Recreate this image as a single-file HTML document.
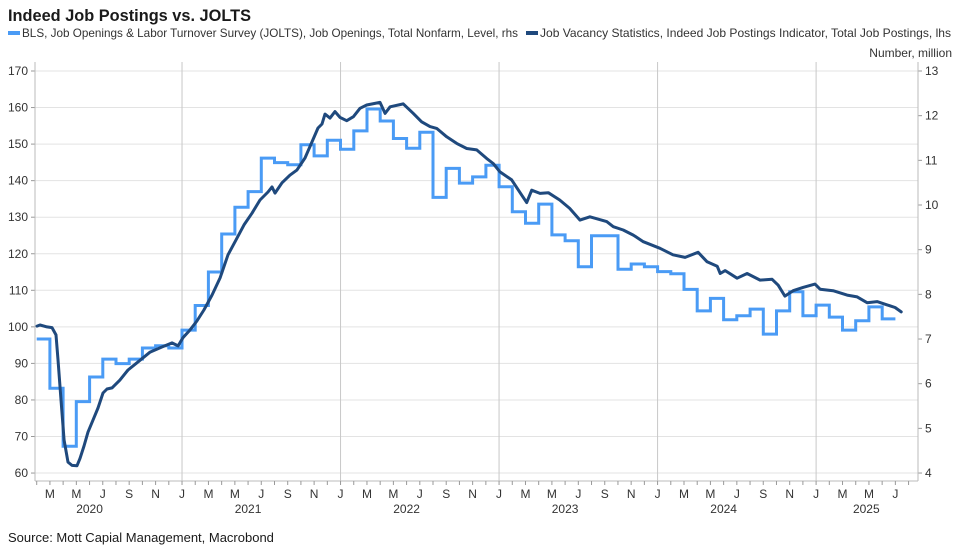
<!DOCTYPE html>
<html><head><meta charset="utf-8"><style>
body{margin:0;background:#fff;font-family:"Liberation Sans",sans-serif;}
svg{display:block}
</style></head><body>
<svg id="chart" width="960" height="554" viewBox="0 0 960 554">
<text x="8" y="21" font-size="16.5" font-weight="bold" fill="#1a1a1a" textLength="243" lengthAdjust="spacingAndGlyphs">Indeed Job Postings vs. JOLTS</text>
<g font-size="12" fill="#333">
<rect x="8" y="31" width="12" height="4" fill="#4a9bf5"/>
<text x="22" y="37" textLength="496" lengthAdjust="spacingAndGlyphs">BLS, Job Openings &amp; Labor Turnover Survey (JOLTS), Job Openings, Total Nonfarm, Level, rhs</text>
<rect x="526" y="31" width="12" height="4" fill="#1f497d"/>
<text x="540" y="37" textLength="411" lengthAdjust="spacingAndGlyphs">Job Vacancy Statistics, Indeed Job Postings Indicator, Total Job Postings, lhs</text>
</g>
<text x="952" y="57" font-size="12" fill="#333" text-anchor="end">Number, million</text>
<g id="grid"></g><g id="axes"></g><g id="series"></g>
<text x="8" y="542" font-size="13" fill="#1a1a1a">Source: Mott Capial Management, Macrobond</text>
</svg>
<script>
const leftTicks=[60,70,80,90,100,110,120,130,140,150,160,170];
const rightTicks=[4,5,6,7,8,9,10,11,12,13];
const monthLetters=["J","F","M","A","M","J","J","A","S","O","N","D"];
const years=[2020,2021,2022,2023,2024,2025];
// JOLTS monthly, millions, starting Feb 2020 (t=1 months since Jan 2020)
const joltsStart=1;
const joltsValues=[7.0,5.9,4.6,5.6,6.15,6.55,6.45,6.55,6.8,6.85,6.8,7.2,7.75,8.5,9.35,9.95,10.3,11.05,10.95,10.9,11.35,11.1,11.45,11.25,11.66,12.15,11.88,11.49,11.27,11.63,10.17,10.82,10.49,10.63,10.89,10.41,9.85,9.59,10.02,9.33,9.2,8.62,9.31,9.31,8.56,8.68,8.62,8.51,8.46,8.11,7.63,7.91,7.43,7.52,7.67,7.11,7.63,8.06,7.52,7.76,7.49,7.2,7.41,7.72,7.45];
// Indeed index: months since Jan 2020 and level
const indeedT=[1.02,1.25,1.78,2.16,2.46,2.61,2.84,3.07,3.37,3.67,4.05,4.28,4.58,4.88,5.26,5.64,6.02,6.32,6.70,7.29,7.91,8.67,9.58,10.48,11.24,11.70,12.07,12.60,13.13,13.66,14.27,14.88,15.48,16.09,16.69,17.30,17.90,18.51,18.81,19.04,19.57,20.17,20.70,21.31,21.84,22.29,22.60,22.82,23.20,23.58,23.96,24.47,24.97,25.47,25.98,26.99,27.37,27.75,28.75,29.51,30.14,30.77,31.28,32.04,32.79,33.55,34.31,35.06,35.56,36.07,36.96,37.71,38.09,38.47,39.10,39.73,40.59,41.35,42.13,42.88,44.15,44.65,45.40,46.16,46.92,48.18,49.17,50.08,51.07,51.75,52.51,52.74,53.12,54.02,54.78,55.76,56.67,57.13,57.64,58.26,59.01,59.92,60.30,61.29,62.35,63.11,63.86,64.62,65.38,65.98,66.44];
const indeedV=[100.2,100.5,100,99.8,97.8,91,80,69,63,62.1,62,64,67.4,71.2,74.5,77.8,81.9,83,83.3,85.4,88.2,90.4,93.1,94.5,95.6,94.8,97,99.1,101.6,104.6,108.7,113.4,119.7,123.8,127.9,131.1,134.7,136.9,138.3,136.6,139.4,141.5,142.9,146.2,150.6,154.4,155.5,158.2,157.1,158.9,157.3,156.4,157.5,159.8,160.7,161.4,158.4,160.2,161,158.4,156.1,154.8,154.3,152,150.2,148.8,148.4,146.1,144.7,142.4,140.2,136.1,134,137.4,136.5,136.7,134.7,132.4,129.2,130.1,128.8,127.4,126.5,125.1,123.3,121.5,119.7,119,120.4,117.8,116.6,114.6,115.4,113.3,114.6,112.8,113,111.4,108.4,109.9,110.8,111.7,110.3,109.9,108.7,108.2,106.6,106.9,106,105.3,104.1];

const X0=23.5, MW=13.21, PL=35, PR=918, PT=62, PB=481;
const xT=t=>X0+t*MW;
const yL=v=>71+(170-v)*3.655;
const yR=v=>71+(13-v)*44.67;
const NS="http://www.w3.org/2000/svg";
function mk(tag,attrs,parent){const e=document.createElementNS(NS,tag);for(const k in attrs)e.setAttribute(k,attrs[k]);parent.appendChild(e);return e;}
const grid=document.getElementById('grid'),axes=document.getElementById('axes'),ser=document.getElementById('series');

leftTicks.forEach(v=>{
  const y=yL(v);
  const l=mk('line',{x1:PL,x2:PR,y1:y,y2:y,stroke:'#e3e3e3','stroke-width':1},grid);
  
  
  const tk=mk('line',{x1:PL-4,x2:PL,y1:y,y2:y,stroke:'#999'},axes);
  
  
  const t=mk('text',{x:28,y:y+4,'font-size':12,fill:'#333','text-anchor':'end'},axes);
  t.textContent=v;
  
  
});
rightTicks.forEach(v=>{
  const y=yR(v);
  const tk=mk('line',{x1:PR,x2:PR+4,y1:y,y2:y,stroke:'#999'},axes);
  
  
  const t=mk('text',{x:925,y:y+4,'font-size':12,fill:'#333'},axes);
  t.textContent=v;
  
  
});
const al=mk('line',{x1:PL,x2:PL,y1:PT,y2:PB,stroke:'#bbb'},axes);


const ar=mk('line',{x1:PR,x2:PR,y1:PT,y2:PB,stroke:'#bbb'},axes);


const ab=mk('line',{x1:PL,x2:PR,y1:PB,y2:PB,stroke:'#bbb'},axes);



for(let t=1;t<=67;t++){
  const x=xT(t); if(x<PL||x>PR)continue;
  const m=t%12;
  if(m===0){
    const g=mk('line',{x1:x,x2:x,y1:PT,y2:PB,stroke:'#c8c8c8'},grid);
    
    
  }
  const tk=mk('line',{x1:x,x2:x,y1:PB,y2:PB+4,stroke:'#999'},axes);
  
  
  if(m%2===0 && t<=66){
    const lb=mk('text',{x:x,y:498,'font-size':12,fill:'#333','text-anchor':'middle'},axes);
    lb.textContent=monthLetters[m];
    
    
  }
}
years.forEach((yr,i)=>{
  const lb=mk('text',{x:i===5?xT(63.8):xT(i*12+5),y:513,'font-size':12,fill:'#333','text-anchor':'middle'},axes);
  lb.textContent=yr;
  
  
});

let d='';
joltsValues.forEach((v,i)=>{
  const t=joltsStart+i;
  d+=(i===0?'M':'L')+xT(t).toFixed(1)+','+yR(v).toFixed(1)+'L'+xT(t+1).toFixed(1)+','+yR(v).toFixed(1);
});
const jp=mk('path',{d:d,fill:'none',stroke:'#4a9bf5','stroke-width':3,'stroke-linejoin':'miter'},ser);



let d2='';
indeedT.forEach((t,i)=>{d2+=(i===0?'M':'L')+xT(t).toFixed(1)+','+yL(indeedV[i]).toFixed(1);});
const ip=mk('path',{d:d2,fill:'none',stroke:'#1f497d','stroke-width':3,'stroke-linejoin':'round','stroke-linecap':'round'},ser);


</script>
</body></html>
